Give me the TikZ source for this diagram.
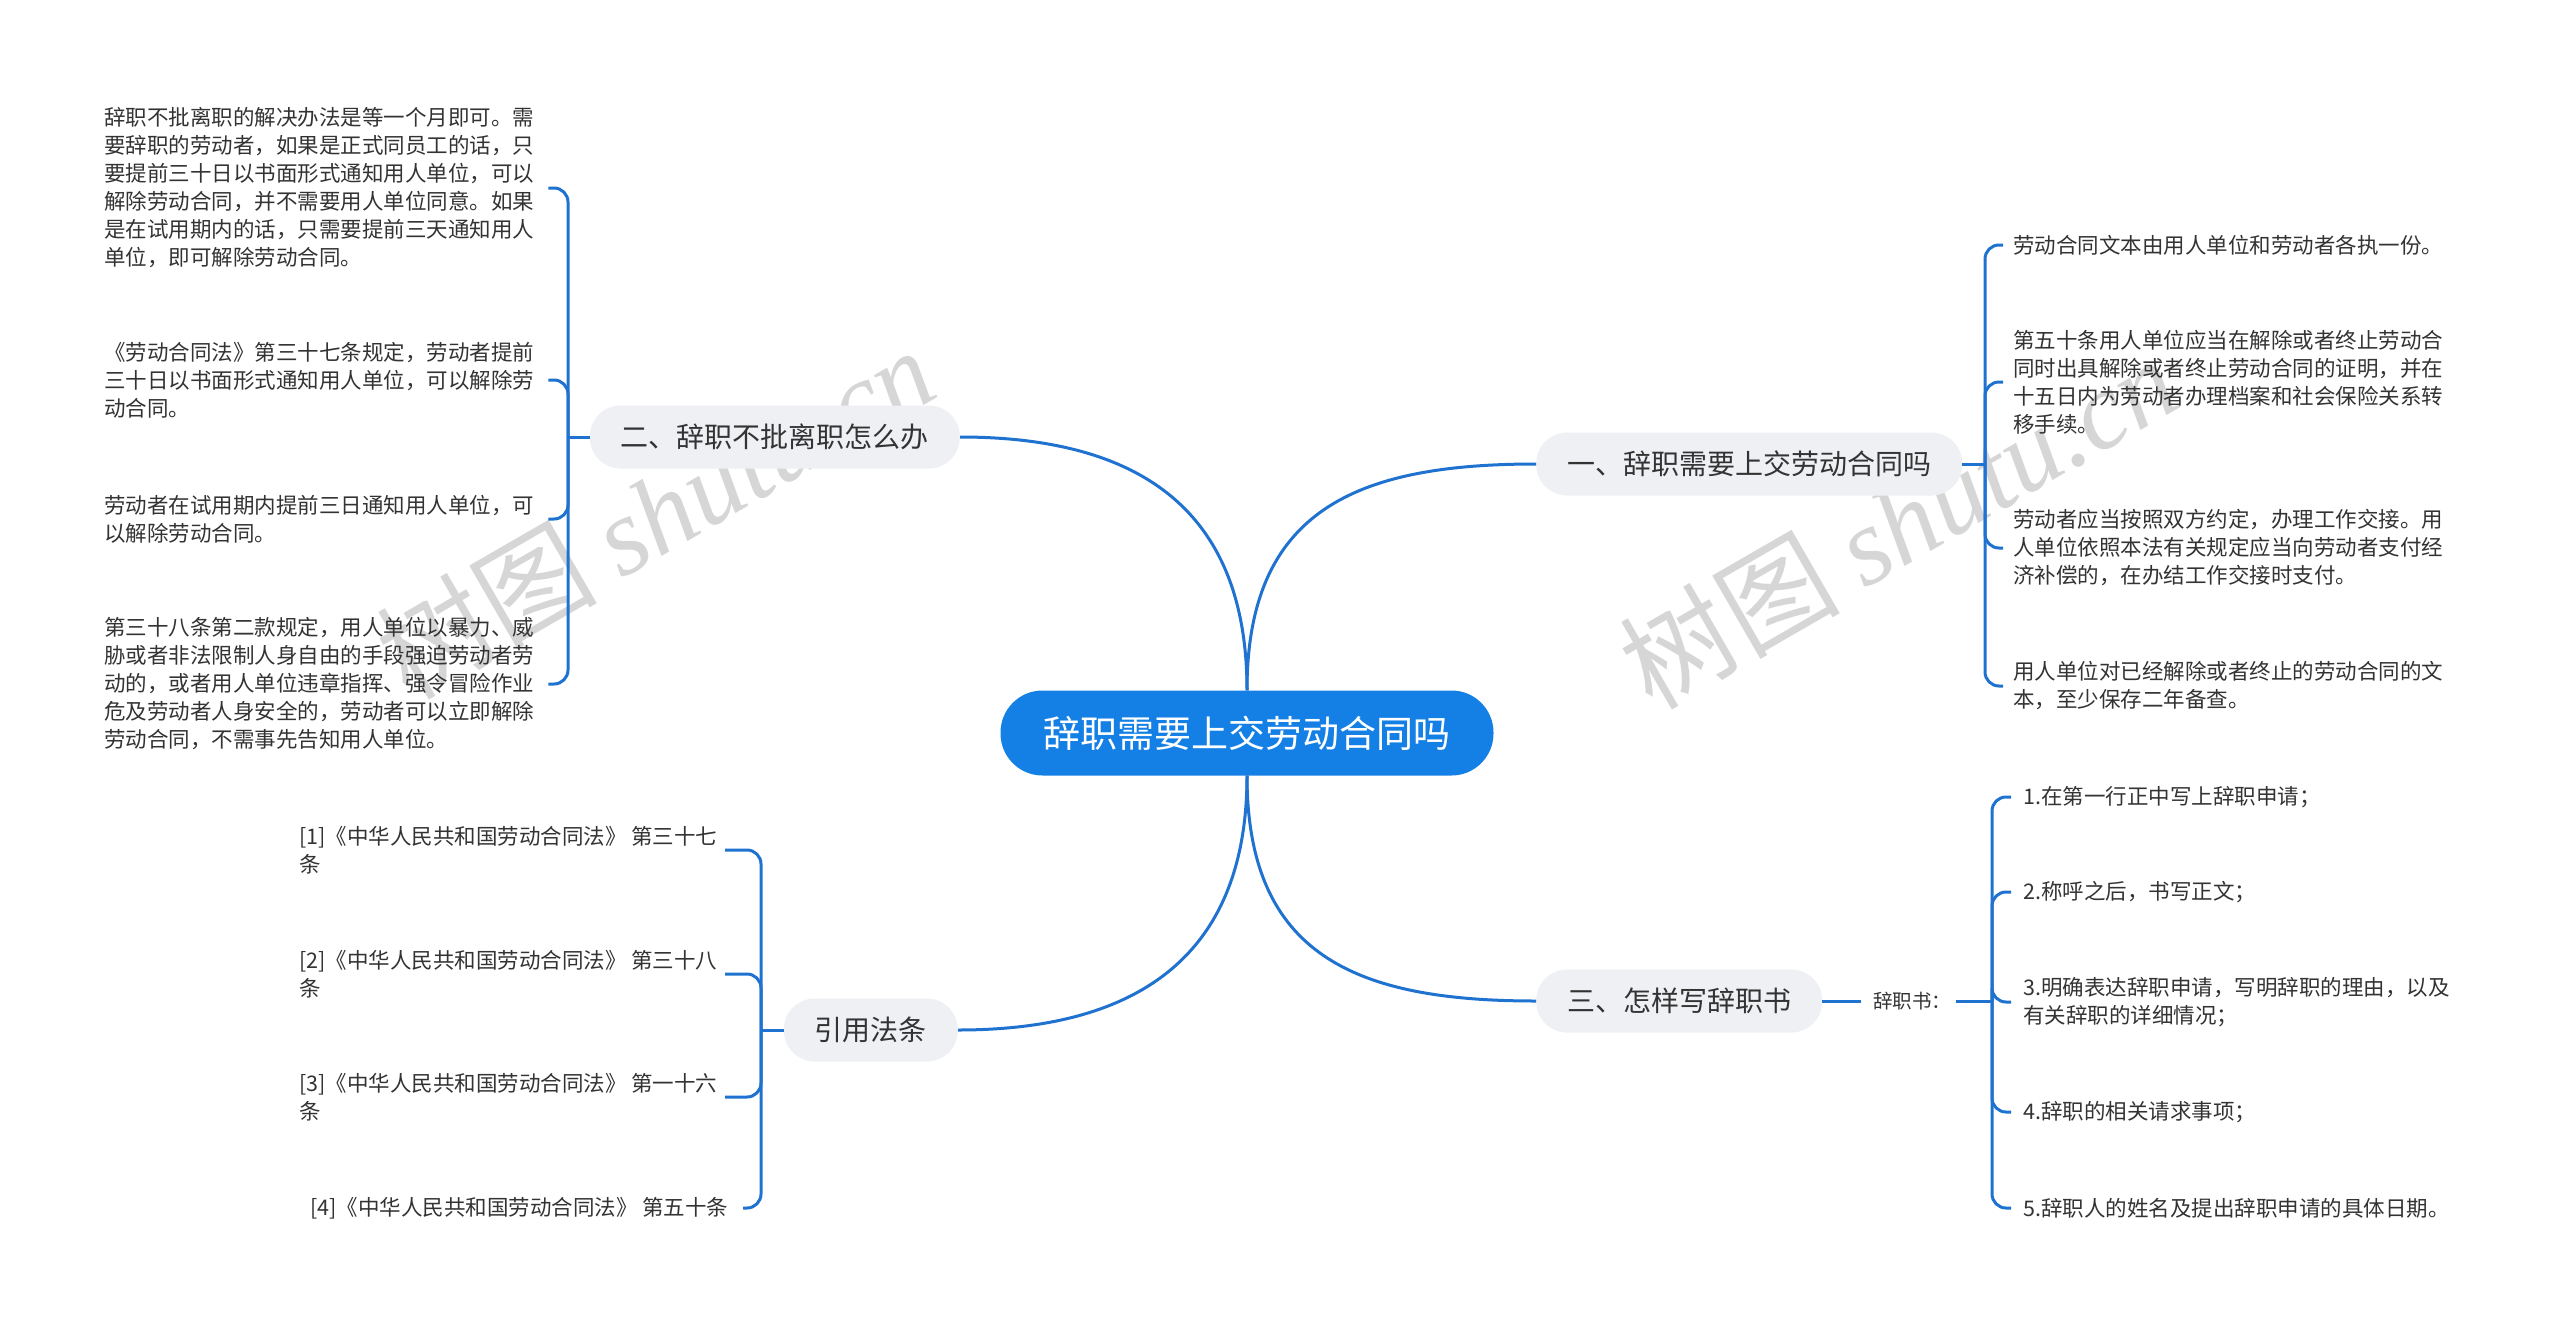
\documentclass[tikz,border=0pt]{standalone}
\usepackage{fontspec}
\setmainfont{Noto Sans CJK SC}
\newfontfamily\wmfont{Liberation Serif}
\usetikzlibrary{positioning}
\definecolor{linkblue}{HTML}{1F72CF}
\definecolor{rootblue}{HTML}{1480E6}
\definecolor{pillgray}{HTML}{EEF0F4}
\definecolor{inkgray}{HTML}{333333}
\definecolor{markgray}{HTML}{D6D6D6}

\begin{document}
\begin{tikzpicture}[x=1pt,y=-1pt,
  root node/.style={rectangle,rounded corners=42pt,fill=rootblue,text=white,minimum width=493pt,minimum height=85pt,font=\fontsize{37}{44}\selectfont},
  main node/.style={rectangle,rounded corners=31pt,fill=pillgray,text=inkgray,minimum height=63pt,inner xsep=31pt,font=\fontsize{28}{34}\selectfont},
  leaf node/.style={anchor=west,align=left,inner sep=0pt,text=inkgray,font=\fontsize{21.5}{28}\selectfont},
  mark node/.style={rotate=30,text=markgray,font=\fontsize{110}{110}\selectfont},
  link/.style={draw=linkblue,line width=3pt},
  brace/.style={link,rounded corners=14pt}]

\fill[white] (0,0) rectangle (2560,1325);
\useasboundingbox (0,0) rectangle (2560,1325);

\node[mark node] (w1) at (655,512) {树图 {\wmfont\itshape shutu.cn}};
\node[mark node] (w2) at (1898,522) {树图 {\wmfont\itshape shutu.cn}};

\node[root node] (0) at (1247,733) {辞职需要上交劳动合同吗};

\node[main node,anchor=west] (1) at (1536,464) {一、辞职需要上交劳动合同吗};
\node[main node,anchor=east] (2) at (960,437) {二、辞职不批离职怎么办};
\node[main node,anchor=west] (3) at (1536,1001) {三、怎样写辞职书};
\node[main node,anchor=east] (4) at (958,1030) {引用法条};

%leaves of 1
\node[leaf node] (11) at (2013,245) {劳动合同文本由用人单位和劳动者各执一份。};
\node[leaf node] (12) at (2013,382) {第五十条用人单位应当在解除或者终止劳动合\\同时出具解除或者终止劳动合同的证明，并在\\十五日内为劳动者办理档案和社会保险关系转\\移手续。};
\node[leaf node] (13) at (2013,548) {劳动者应当按照双方约定，办理工作交接。用\\人单位依照本法有关规定应当向劳动者支付经\\济补偿的，在办结工作交接时支付。};
\node[leaf node] (14) at (2013,686) {用人单位对已经解除或者终止的劳动合同的文\\本，至少保存二年备查。};

%leaves of 2
\node[leaf node] (21) at (104,188) {辞职不批离职的解决办法是等一个月即可。需\\要辞职的劳动者，如果是正式同员工的话，只\\要提前三十日以书面形式通知用人单位，可以\\解除劳动合同，并不需要用人单位同意。如果\\是在试用期内的话，只需要提前三天通知用人\\单位，即可解除劳动合同。};
\node[leaf node] (22) at (104,380) {《劳动合同法》第三十七条规定，劳动者提前\\三十日以书面形式通知用人单位，可以解除劳\\动合同。};
\node[leaf node] (23) at (104,519) {劳动者在试用期内提前三日通知用人单位，可\\以解除劳动合同。};
\node[leaf node] (24) at (104,684) {第三十八条第二款规定，用人单位以暴力、威\\胁或者非法限制人身自由的手段强迫劳动者劳\\动的，或者用人单位违章指挥、强令冒险作业\\危及劳动者人身安全的，劳动者可以立即解除\\劳动合同，不需事先告知用人单位。};

%leaves of 3
\node[leaf node,font=\fontsize{19.5}{24}\selectfont] (30) at (1873,1001) {辞职书：};
\node[leaf node] (31) at (2023,797) {1.在第一行正中写上辞职申请；};
\node[leaf node] (32) at (2023,892) {2.称呼之后，书写正文；};
\node[leaf node] (33) at (2023,1002) {3.明确表达辞职申请，写明辞职的理由，以及\\有关辞职的详细情况；};
\node[leaf node] (34) at (2023,1112) {4.辞职的相关请求事项；};
\node[leaf node] (35) at (2023,1208) {5.辞职人的姓名及提出辞职申请的具体日期。};

%leaves of 4
\node[leaf node] (41) at (299,850) {[1]《中华人民共和国劳动合同法》 第三十七\\条};
\node[leaf node] (42) at (299,974) {[2]《中华人民共和国劳动合同法》 第三十八\\条};
\node[leaf node] (43) at (299,1097) {[3]《中华人民共和国劳动合同法》 第一十六\\条};
\node[leaf node] (44) at (310,1208) {[4]《中华人民共和国劳动合同法》 第五十条};

\coordinate (j1) at (1985,464);
\coordinate (j2) at (568,437);
\coordinate (j3) at (1992,1001);
\coordinate (j4) at (761,1030);

%main branches
\draw[link] (2.east) .. controls +(180,0) and +(0,-180) .. (0.north);
\draw[link] (1.west) .. controls +(-180,0) and +(0,-180) .. (0.north);
\draw[link] (4.east) .. controls +(180,0) and +(0,180) .. (0.south);
\draw[link] (3.west) .. controls +(-180,0) and +(0,180) .. (0.south);

%braces
\draw[link] (1.east) -- (j1);
\foreach \n in {11,12,13,14}
  \draw[brace] (j1) |- ([xshift=-10pt]\n.west);
\draw[link] (2.west) -- (j2);
\foreach \n in {21,22,23,24}
  \draw[brace] (j2) |- ([xshift=14pt]\n.east);
\draw[link] (3.east) -- ([xshift=-12pt]30.west);
\draw[link] ([xshift=5pt]30.east) -- (j3);
\foreach \n in {31,32,33,34,35}
  \draw[brace] (j3) |- ([xshift=-12pt]\n.west);
\draw[link] (4.west) -- (j4);
\foreach \n in {41,42,43}
  \draw[brace] (j4) |- ([xshift=-18pt]\n.west -| 743,0);
\draw[brace] (j4) |- (743,1208);

\end{tikzpicture}
\end{document}
